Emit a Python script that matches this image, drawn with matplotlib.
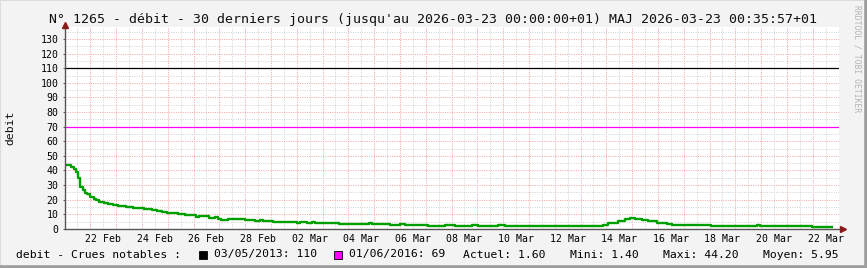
import numpy as np
import matplotlib
matplotlib.use("Agg")
import matplotlib.pyplot as plt
from matplotlib.patches import Rectangle
from matplotlib.lines import Line2D

# ---------------- data ----------------
title = "N° 1265 - débit - 30 derniers jours (jusqu'au 2026-03-23 00:00:00+01) MAJ 2026-03-23 00:35:57+01"
ylabel = "debit"
watermark = "RRDTOOL / TOBI OETIKER"
start = np.datetime64("2026-02-21T00:00")
end = np.datetime64("2026-03-23T00:00")

# hours since start where the value changes, and the value from then on
step_hours = [0, 6, 9, 11, 13, 14, 17, 19, 21, 24, 27, 29, 32, 37, 40, 45, 50, 57,
              64, 74, 81, 86, 91, 95, 106, 112, 122, 125, 134, 140, 143, 146, 152,
              168, 177, 182, 185, 194, 213, 216, 219, 226, 230, 233, 255, 283, 286,
              303, 312, 317, 338, 354, 363, 379, 385, 403, 410, 462, 464, 501, 506,
              515, 521, 526, 531, 537, 543, 551, 560, 565, 601, 644, 647, 652, 653,
              672, 680, 695, 715]
debit = [43.8, 42.4, 41.0, 38.8, 34.7, 28.5, 26.4, 24.8, 23.7, 21.6, 20.7, 19.6, 18.6,
         17.9, 17.0, 16.1, 15.7, 15.0, 14.3, 13.6, 12.9, 12.3, 11.4, 11.1, 10.4, 9.5,
         8.2, 8.6, 7.5, 8.0, 6.8, 6.1, 6.8, 5.9, 5.6, 5.9, 5.4, 4.7, 5.0, 4.2, 4.6,
         4.2, 4.6, 4.3, 3.6, 3.9, 3.6, 2.9, 3.3, 2.9, 2.2, 2.7, 2.2, 2.7, 2.2, 2.6,
         2.2, 1.8, 2.2, 3.0, 3.8, 5.4, 6.5, 7.7, 6.8, 6.1, 5.2, 4.2, 3.4, 2.9, 2.2,
         2.9, 2.2, 1.8, 2.2, 1.8, 2.2, 1.6, 1.6]

crue_labels = ["03/05/2013: 110", "01/06/2016: 69"]
crue_values = [110, 70]
crue_colors = ["#000000", "#ff00ff"]

x_tick_labels = ["22 Feb", "24 Feb", "26 Feb", "28 Feb", "02 Mar", "04 Mar", "06 Mar",
                 "08 Mar", "10 Mar", "12 Mar", "14 Mar", "16 Mar", "18 Mar", "20 Mar",
                 "22 Mar"]
y_ticks = list(range(0, 140, 10))

stats_labels = ["Actuel: 1.60", "Mini: 1.40", "Maxi: 44.20", "Moyen: 5.95"]
legend_prefix = "debit - Crues notables :"

# ---------------- figure ----------------
W, H = 867, 268
fig = plt.figure(figsize=(W / 100, H / 100), dpi=100, facecolor="#f3f3f3")
mono = "DejaVu Sans Mono"

def fx(px):
    return px / W

def fy(py):
    return 1 - py / H

x0, x1 = 64.5, 838.5
y_zero, y_top = 228.9, 27.4
ymax = 138.0
ax = fig.add_axes([fx(x0), fy(y_zero), fx(x1) - fx(x0), (y_zero - y_top) / H])
ax.set_facecolor("white")

times = start + np.array(step_hours, dtype="timedelta64[h]")
ax.set_xlim(start, end)
ax.set_ylim(0, ymax)

# grid
red = "#f3a6a6"
grey = "#d4d4d4"
lw1 = 0.72
nhalf = int((end - start) / np.timedelta64(12, "h"))
for k in range(1, nhalf + 1):
    t = start + np.timedelta64(12 * k, "h")
    ax.axvline(t, color=red if k % 2 == 0 else grey, lw=lw1,
               ls=(0, (1, 1.3)), zorder=1)
for v in np.arange(5, ymax, 5):
    ax.axhline(v, color=red if v % 10 == 0 else grey, lw=lw1,
               ls=(0, (1, 1.3)), zorder=1)

# thresholds
for v, c in zip(crue_values, crue_colors):
    ax.axhline(v, color=c, lw=0.9, zorder=3)

# series
ax.step(times, debit, where="post", color="#009f00", lw=1.7, zorder=4,
        solid_capstyle="butt")

# axes
for s in ax.spines.values():
    s.set_visible(False)
axcol = "#555555"
ax.plot([0, 0], [0, 1], transform=ax.transAxes, color=axcol, lw=1.0,
        clip_on=False, zorder=5)
ax.plot([0, 1.006], [0, 0], transform=ax.transAxes, color=axcol, lw=1.0,
        clip_on=False, zorder=5)
ax.plot([0], [1.01], transform=ax.transAxes, marker="^", ms=4.5, color="#8b1a1a",
        clip_on=False, zorder=6)
ax.plot([1.006], [0], transform=ax.transAxes, marker=">", ms=4.5, color="#8b1a1a",
        clip_on=False, zorder=6)

label_days = [start + np.timedelta64(24 * (1 + 2 * i) + 12, "h")
              for i in range(len(x_tick_labels))]
ax.set_xticks(label_days)
ax.set_xticklabels(x_tick_labels, fontfamily=mono, fontsize=7.1)
ax.set_yticks(y_ticks)
ax.set_yticklabels([str(v) for v in y_ticks], fontfamily=mono, fontsize=7.1)
ax.tick_params(axis="x", length=0, pad=4)
ax.tick_params(axis="y", length=1.5, width=0.7, color=axcol, pad=3)

# texts
fig.text(fx(432.7), fy(19), title, ha="center", va="center", fontfamily=mono,
         fontsize=9.5, color="#111111")
fig.text(fx(10), fy(128), ylabel, ha="center", va="center", rotation=90,
         fontfamily=mono, fontsize=8.2, color="#111111")
fig.text(fx(857), fy(5), watermark, ha="center", va="top", rotation=270,
         fontfamily=mono, fontsize=5.8, color="#b4b4b4")

ty = fy(254.5)
fs = 8.2
fig.text(fx(16), ty, legend_prefix, ha="left", va="center", fontfamily=mono, fontsize=fs)
sq_x = [199.3, 334.3]
txt_x = [214.3, 349.0]
for sx, tx, c, lab in zip(sq_x, txt_x, crue_colors, crue_labels):
    fig.patches.append(Rectangle((fx(sx), fy(258.5)), fx(8), 8 / H, transform=fig.transFigure,
                                 facecolor=c, edgecolor="#000000", lw=0.6))
    fig.text(fx(tx), ty, lab, ha="left", va="center", fontfamily=mono, fontsize=fs)
for sx, lab in zip([463.3, 570.0, 662.7, 763.3], stats_labels):
    fig.text(fx(sx), ty, lab, ha="left", va="center", fontfamily=mono, fontsize=fs)

# frame
fig.add_artist(Line2D([0, 0], [0, 1], transform=fig.transFigure, color="#dcdcdc", lw=1.5))
fig.add_artist(Line2D([0, 1], [1, 1], transform=fig.transFigure, color="#dcdcdc", lw=1.5))
fig.add_artist(Line2D([1, 1], [0, 1], transform=fig.transFigure, color="#9c9c9c", lw=4))
fig.add_artist(Line2D([0, 1], [0, 0], transform=fig.transFigure, color="#9c9c9c", lw=4))

fig.savefig("out.png", dpi=100, facecolor=fig.get_facecolor())
